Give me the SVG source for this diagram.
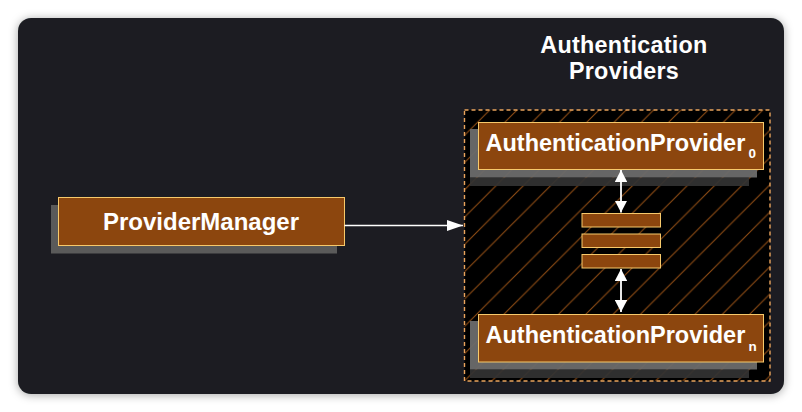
<svg xmlns="http://www.w3.org/2000/svg" width="802" height="412" viewBox="0 0 802 412">
  <style>
    .box { fill: #8c460e; stroke: #f7c96b; stroke-width: 1; }
    .lbl { font-family: "Liberation Sans", Arial, sans-serif; font-weight: bold; fill: #ffffff; }
    .sh1 { fill: #6b6b6b; opacity: 0.95; }
    .sh2 { fill: #333333; opacity: 0.92; }
    .conn { stroke: #ffffff; fill: none; }
  </style>
  <defs>
    <filter id="outerShadow" x="-5%" y="-5%" width="110%" height="110%">
      <feDropShadow dx="0" dy="1" stdDeviation="5" flood-color="#000000" flood-opacity="0.35"/>
    </filter>
    <pattern id="hatch" patternUnits="userSpaceOnUse" x="-0.8" y="0" width="27.3" height="27.3">
      <rect width="27.3" height="27.3" fill="#000000"/>
      <path d="M0,27.3 L27.3,0 M-2,2 L2,-2 M25.3,29.3 L29.3,25.3" stroke="#8f4c14" stroke-width="1.1"/>
    </pattern>
    <marker id="arrEnd" viewBox="0 0 16 11" refX="16" refY="5.5" markerWidth="16" markerHeight="11" markerUnits="userSpaceOnUse" orient="auto">
      <path d="M0,0 L16,5.5 L0,11 Z" fill="#ffffff"/>
    </marker>
    <marker id="arrV" viewBox="0 0 12 12.5" refX="12" refY="6.25" markerWidth="12" markerHeight="12.5" markerUnits="userSpaceOnUse" orient="auto-start-reverse">
      <path d="M0,0 L12,6.25 L0,12.5 Z" fill="#ffffff"/>
    </marker>
  </defs>

  <rect x="0" y="0" width="802" height="412" fill="#ffffff"/>
  <rect x="18" y="18" width="766" height="376" rx="13" ry="13" fill="#1b1f23" filter="url(#outerShadow)"/>

  <text class="lbl" x="624" y="53.3" text-anchor="middle" font-size="23.3" letter-spacing="0.3">Authentication</text>
  <text class="lbl" x="624" y="79.3" text-anchor="middle" font-size="23.3" letter-spacing="0.3">Providers</text>

  <g id="auth-providers-group">
    <rect x="464.5" y="110" width="305.5" height="271" fill="url(#hatch)" stroke="#eaa45c" stroke-width="1.4" stroke-dasharray="4 3"/>
  </g>

  <g id="provider-manager">
    <rect x="51" y="205" width="286" height="48.5" fill="#5a5a5a"/>
    <rect class="box" x="58.5" y="197.5" width="286" height="48"/>
    <text class="lbl" x="201" y="230" text-anchor="middle" font-size="24">ProviderManager</text>
  </g>

  <g id="auth-provider-0">
    <rect class="sh2" x="470" y="177.5" width="279" height="8.5"/>
    <rect class="sh1" x="470" y="129" width="287" height="48.5"/>
    <rect class="box" x="478.5" y="122.5" width="285" height="47"/>
    <text class="lbl" x="485.5" y="151" font-size="23.5">AuthenticationProvider<tspan x="748.5" y="158.3" font-size="13.5">0</tspan></text>
  </g>

  <g id="ellipsis-bars">
    <rect class="box" x="582" y="213.5" width="78.5" height="13.5"/>
    <rect class="box" x="582" y="234" width="78.5" height="13.5"/>
    <rect class="box" x="582" y="254.5" width="78.5" height="13.5"/>
  </g>

  <g id="auth-provider-n">
    <rect class="sh2" x="470" y="369.5" width="279" height="8.5"/>
    <rect class="sh1" x="470" y="321" width="287" height="48.5"/>
    <rect class="box" x="478.5" y="314.5" width="285" height="47.5"/>
    <text class="lbl" x="485.5" y="342.5" font-size="23.5">AuthenticationProvider<tspan x="748.5" y="350.5" font-size="13.5">n</tspan></text>
  </g>

  <g id="connectors">
    <line class="conn" x1="344.5" y1="225.5" x2="463" y2="225.5" stroke-width="1.3" marker-end="url(#arrEnd)"/>
    <line class="conn" x1="621" y1="170" x2="621" y2="212.5" stroke-width="1.8" marker-start="url(#arrV)" marker-end="url(#arrV)"/>
    <line class="conn" x1="621" y1="269" x2="621" y2="312" stroke-width="1.8" marker-start="url(#arrV)" marker-end="url(#arrV)"/>
  </g>
</svg>
